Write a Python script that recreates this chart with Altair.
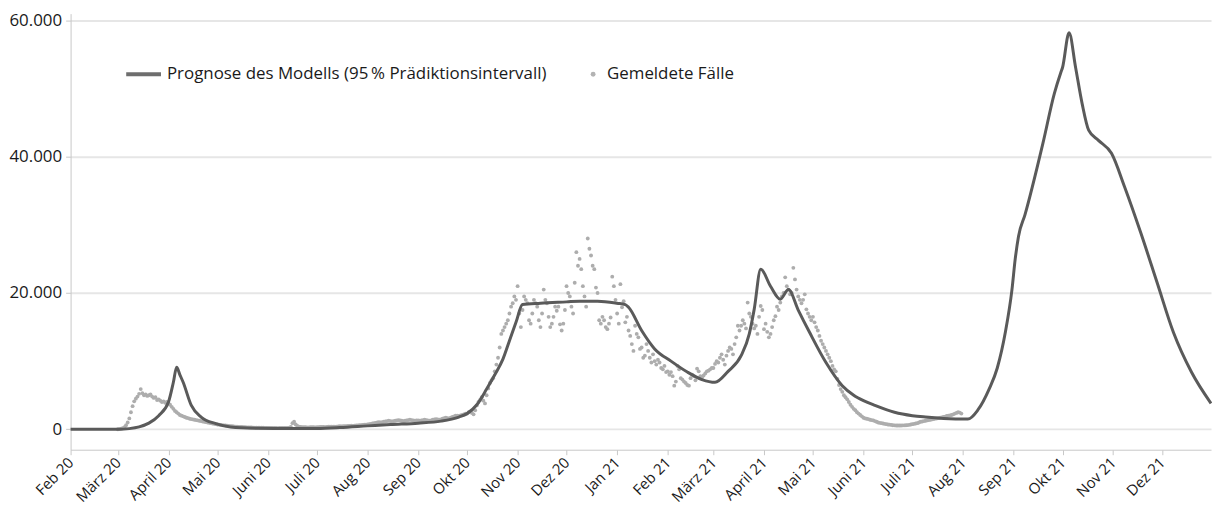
import json
import altair as alt
import pandas as pd

# ---------------- data ----------------
month_names = ["Jan", "Feb", "März", "April", "Mai", "Juni", "Juli", "Aug", "Sep", "Okt", "Nov", "Dez"]
y_ticks = [0, 20000, 40000, 60000]
legend_labels = ["Prognose des Modells (95\u2009% Prädiktionsintervall)", "Gemeldete Fälle"]

# model forecast (dark line)
model_dates = ["2020-02-01", "2020-03-01", "2020-03-08", "2020-03-14", "2020-03-20", "2020-03-26",
               "2020-04-01", "2020-04-04", "2020-04-06", "2020-04-08", "2020-04-10", "2020-04-15",
               "2020-04-21", "2020-04-30", "2020-05-09", "2020-05-26", "2020-06-15", "2020-07-01",
               "2020-07-15", "2020-08-01", "2020-08-15", "2020-09-01", "2020-09-15", "2020-09-26",
               "2020-10-01", "2020-10-07", "2020-10-13", "2020-10-18", "2020-10-23", "2020-10-27",
               "2020-10-31", "2020-11-04", "2020-11-15", "2020-12-01", "2020-12-09", "2020-12-20",
               "2021-01-01", "2021-01-06", "2021-01-08", "2021-01-16", "2021-01-24", "2021-02-03",
               "2021-02-13", "2021-02-22", "2021-03-02", "2021-03-10", "2021-03-18", "2021-03-23",
               "2021-03-26", "2021-03-30", "2021-04-05", "2021-04-11", "2021-04-16", "2021-04-22",
               "2021-04-29", "2021-05-09", "2021-05-19", "2021-05-26", "2021-06-01", "2021-06-08",
               "2021-06-20", "2021-07-01", "2021-07-09", "2021-07-20", "2021-08-04", "2021-08-10",
               "2021-08-17", "2021-08-22", "2021-08-27", "2021-08-31", "2021-09-02", "2021-09-04",
               "2021-09-08", "2021-09-19", "2021-09-26", "2021-09-30", "2021-10-01", "2021-10-05",
               "2021-10-09", "2021-10-13", "2021-10-17", "2021-10-23", "2021-10-31", "2021-11-08",
               "2021-11-18", "2021-11-28", "2021-12-08", "2021-12-19", "2021-12-31"]
model_values = [0, 0, 100, 350, 900, 2000, 4000, 6900, 9100, 8000,
                6900, 3500, 1800, 830, 350, 150, 100, 120, 250, 500,
                700, 900, 1200, 1800, 2300, 3600, 5900, 8000, 10300, 13000,
                15700, 18300, 18500, 18700, 18800, 18800, 18500, 18300, 17900, 14500,
                11800, 10000, 8400, 7300, 6900, 8500, 10800, 14000, 17600, 23500,
                21000, 19100, 20500, 17500, 14200, 9800, 6400, 5000, 4200, 3500,
                2500, 2000, 1800, 1600, 1500, 2800, 5900, 9000, 14300, 20500,
                25000, 28300, 31500, 42000, 49300, 52400, 53100, 58200, 53100, 47800,
                43900, 42400, 40500, 35600, 28800, 21500, 14200, 8400, 3800]

# reported daily cases (light grey points), one list per month, starting 2020-03-01
r_2020_03 = [0, 30, 80, 150, 300, 600, 1000, 1600, 2500, 3400, 4100, 4500, 4800, 5200, 5900, 5300,
             5000, 5100, 4900, 5000, 5100, 4800, 4600, 4700, 4300, 4400, 4200, 4000, 4100, 3900, 4000]
r_2020_04 = [3800, 3600, 3300, 3000, 2700, 2500, 2300, 2100, 2000, 1900, 1800, 1700, 1650, 1550, 1500,
             1450, 1400, 1350, 1300, 1250, 1200, 1150, 1100, 1050, 1000, 950, 900, 850, 800, 750]
r_2020_05 = [700, 680, 640, 600, 580, 560, 520, 500, 470, 450, 420, 400, 380, 360, 350, 330, 320, 300,
             290, 280, 270, 260, 250, 250, 240, 240, 230, 220, 220, 210, 200]
r_2020_06 = [200, 190, 200, 210, 200, 190, 180, 190, 200, 210, 200, 190, 200, 230, 350, 900, 1100, 700,
             500, 400, 350, 300, 320, 300, 290, 280, 300, 310, 300, 290]
r_2020_07 = [300, 320, 330, 340, 330, 320, 350, 370, 390, 400, 380, 370, 400, 420, 440, 430, 450, 470,
             460, 480, 500, 520, 510, 540, 560, 580, 600, 620, 640, 660, 680]
r_2020_08 = [700, 750, 800, 850, 900, 950, 1000, 1050, 1000, 1050, 1100, 1150, 1200, 1250, 1200, 1150,
             1200, 1250, 1300, 1350, 1300, 1250, 1200, 1250, 1300, 1350, 1400, 1350, 1300, 1250, 1300]
r_2020_09 = [1300, 1250, 1300, 1350, 1400, 1350, 1300, 1250, 1300, 1400, 1450, 1500, 1450, 1400, 1450,
             1550, 1650, 1700, 1650, 1600, 1700, 1800, 1900, 2000, 2000, 1950, 2050, 2100, 2200, 2300]
r_2020_10 = [2300, 2500, 2600, 2400, 2200, 2800, 3500, 4000, 4300, 4700, 4200, 3800, 5000, 6000, 6800,
             7200, 7500, 8500, 9500, 10500, 12000, 14000, 14500, 15000, 15500, 16000, 17000, 18000,
             18500, 19500, 19000]
r_2020_11 = [21000, 17000, 15000, 17500, 19500, 19000, 18500, 16000, 15500, 17000, 19000, 18500, 18000,
             16000, 15000, 17000, 20500, 19000, 18500, 16500, 15000, 15500, 16500, 18000, 17400, 18000,
             15400, 14500, 15500, 17500]
r_2020_12 = [21000, 20000, 19500, 18000, 17000, 21500, 26000, 24000, 25000, 23500, 21000, 19500, 18000,
             28000, 26500, 25500, 24000, 23500, 20800, 20000, 16000, 15500, 16500, 16000, 15000, 14700,
             15500, 16400, 22400, 21000, 19000]
r_2021_01 = [17000, 15500, 21300, 17900, 18800, 15700, 16500, 14500, 13700, 12500, 11500, 15200, 14000,
             13500, 11800, 12000, 10500, 10800, 12500, 11500, 10500, 9800, 11000, 10000, 9500, 10200,
             9800, 9000, 8800, 9300, 8400]
r_2021_02 = [8500, 8000, 8400, 7800, 6400, 7000, 9300, 8800, 7500, 7300, 7000, 6800, 6500, 6400, 7500,
             8000, 7800, 7200, 8900, 8500, 7800, 7600, 7900, 8200, 8500, 8600, 8800, 9000]
r_2021_03 = [9000, 9600, 10000, 9800, 10500, 11000, 10200, 9500, 10800, 11500, 12000, 11800, 11000,
             12500, 13500, 15200, 14500, 15200, 16000, 15500, 14800, 18600, 17000, 16500, 15500, 14800,
             15200, 14000, 16500, 18100, 17500]
r_2021_04 = [14700, 15500, 14300, 13500, 14000, 15000, 16000, 16600, 18000, 17500, 18600, 19500, 20000,
             22300, 21000, 20500, 19800, 20000, 23700, 22000, 20500, 19500, 19000, 18500, 19000, 19800,
             17600, 17000, 16500, 16000]
r_2021_05 = [16500, 15700, 15000, 14500, 13700, 13000, 12500, 12000, 11500, 11000, 10500, 10000, 9300,
             8800, 8500, 7400, 6500, 5900, 5500, 5000, 4700, 4400, 4000, 3600, 3300, 3000, 2800, 2500,
             2300, 2100, 1900]
r_2021_06 = [1700, 1600, 1550, 1500, 1400, 1350, 1300, 1200, 1100, 1000, 950, 900, 850, 800, 750, 700,
             680, 650, 600, 580, 560, 550, 550, 560, 570, 580, 600, 620, 650, 700]
r_2021_07 = [750, 800, 850, 900, 1000, 1100, 1150, 1200, 1250, 1300, 1350, 1400, 1450, 1500, 1560, 1600,
             1650, 1700, 1750, 1800, 1850, 1950, 2000, 2050, 2100, 2200, 2300, 2400, 2500, 2450, 2300]

# ---------------- tables ----------------
reported_values = (r_2020_03 + r_2020_04 + r_2020_05 + r_2020_06 + r_2020_07 + r_2020_08 + r_2020_09
                   + r_2020_10 + r_2020_11 + r_2020_12 + r_2021_01 + r_2021_02 + r_2021_03 + r_2021_04
                   + r_2021_05 + r_2021_06 + r_2021_07)
reported_dates = pd.date_range("2020-03-01", periods=len(reported_values), freq="D").strftime("%Y-%m-%d")
rep_df = pd.DataFrame({"date": list(reported_dates), "value": reported_values})
model_df = pd.DataFrame({"date": model_dates, "value": model_values})

FONT = "Open Sans"
LINE_COLOR = "#5a5a5a"
POINT_COLOR = "#adadad"

x_domain = [alt.DateTime(year=2020, month=2, date=1, utc=True),
            alt.DateTime(year=2021, month=12, date=31, utc=True)]
tick_values = [alt.DateTime(year=2020 + (1 + i) // 12, month=(1 + i) % 12 + 1, date=1, utc=True)
               for i in range(23)]
label_expr = (json.dumps(month_names, ensure_ascii=False)
              + "[utcmonth(datum.value)] + ' ' + (utcyear(datum.value) % 100)")

x_enc = alt.X("date:T",
              scale=alt.Scale(type="utc", domain=x_domain),
              axis=alt.Axis(values=tick_values, labelExpr=label_expr, title=None, grid=False,
                            labelAngle=-45, labelAlign="right", labelBaseline="middle",
                            tickSize=5, labelPadding=5, labelOverlap=False, labelBound=False,
                            labelFlush=False, labelFontSize=15))
y_enc = alt.Y("value:Q",
              scale=alt.Scale(domain=[-3000, 61000], nice=False, zero=False),
              axis=alt.Axis(values=y_ticks, labelExpr="replace(datum.label, ',', '.')", title=None,
                            grid=True, gridColor="#e6e6e6", gridWidth=2, tickSize=5, labelPadding=4,
                            labelFontSize=17))

points = alt.Chart(rep_df).mark_circle(size=15, color=POINT_COLOR, opacity=1).encode(x=x_enc, y=y_enc)
line = alt.Chart(model_df).mark_line(color=LINE_COLOR, strokeWidth=3, interpolate="monotone").encode(
    x=alt.X("date:T"), y=alt.Y("value:Q"))

blank = alt.Data(values=[{}])
leg_line = alt.Chart(blank).mark_rule(color="#6e6e6e", strokeWidth=4).encode(
    x=alt.value(56), x2=alt.value(91), y=alt.value(61))
leg_text1 = alt.Chart(blank).mark_text(align="left", baseline="middle", font=FONT, fontSize=17,
                                        color="#1a1a1a").encode(
    x=alt.value(97), y=alt.value(61), text=alt.value(legend_labels[0]))
leg_pt = alt.Chart(blank).mark_circle(size=24, color="#b3b3b3", opacity=1).encode(
    x=alt.value(526), y=alt.value(61))
leg_text2 = alt.Chart(blank).mark_text(align="left", baseline="middle", font=FONT, fontSize=17,
                                        color="#1a1a1a").encode(
    x=alt.value(540), y=alt.value(61), text=alt.value(legend_labels[1]))

chart = (alt.layer(points, line, leg_line, leg_text1, leg_pt, leg_text2)
         .properties(width=1148, height=439,
                     autosize=alt.AutoSizeParams(type="none"),
                     padding={"left": 63, "top": 4, "right": 1, "bottom": 60})
         .configure_view(stroke=None)
         .configure_axis(domainColor="#c8c8c8", tickColor="#c8c8c8", labelFont=FONT,
                         labelColor="#1a1a1a"))

chart.save("out.html", embed_options={"renderer": "svg", "actions": False})
